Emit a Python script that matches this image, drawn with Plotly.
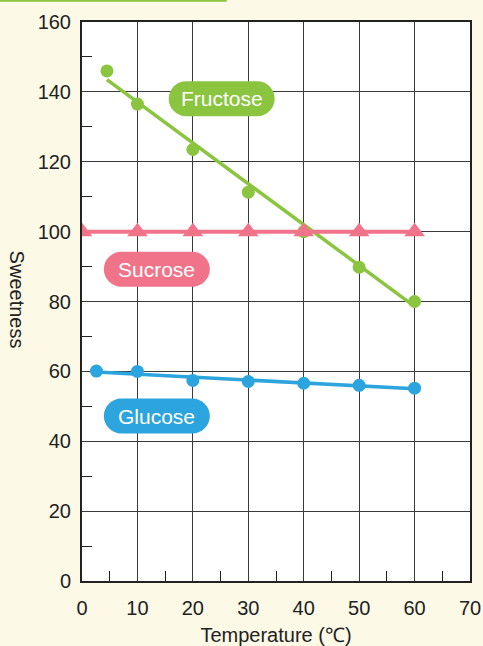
import plotly.graph_objects as go

fructose_t = [4.5, 10, 20, 30, 40, 50, 60]
fructose_s = [146, 136.5, 123.5, 111.3, 100, 89.8, 80]
fructose_fit_t = [4.5, 59.5]
fructose_fit_s = [143.5, 79.2]

sucrose_t = [0, 10, 20, 30, 40, 50, 60]
sucrose_s = [100, 100, 100, 100, 100, 100, 100]

glucose_t = [2.6, 10, 20, 30, 40, 50, 60]
glucose_s = [60.1, 60.0, 57.4, 57.1, 56.6, 56.0, 55.2]
glucose_fit_t = [2.6, 60]
glucose_fit_s = [59.8, 55.0]

GREEN = "#8bc540"
PINK = "#f07389"
BLUE = "#2ca4de"
BG = "#fdf9e7"
GRID = "#3a3a3a"
FONT = "Liberation Sans, Arial, sans-serif"

fig = go.Figure()

fig.add_scatter(x=fructose_fit_t, y=fructose_fit_s, mode="lines",
                line=dict(color=GREEN, width=3.5), showlegend=False, hoverinfo="skip")
fig.add_scatter(x=fructose_t, y=fructose_s, mode="markers",
                marker=dict(color=GREEN, size=13), showlegend=False)

fig.add_scatter(x=sucrose_t, y=sucrose_s, mode="lines+markers",
                line=dict(color=PINK, width=4),
                marker=dict(color=PINK, size=18, symbol="triangle-up"),
                showlegend=False)

fig.add_scatter(x=glucose_fit_t, y=glucose_fit_s, mode="lines",
                line=dict(color=BLUE, width=3.5), showlegend=False, hoverinfo="skip")
fig.add_scatter(x=glucose_t, y=glucose_s, mode="markers",
                marker=dict(color=BLUE, size=13), showlegend=False)


def pill(xc, yc, w, h, color):
    # rounded label box in pixels around a data anchor
    a = w / 2 - h / 2
    r = h / 2
    k = 0.5523 * r
    path = (f"M {-a},{-r} L {a},{-r} "
            f"C {a + k},{-r} {a + r},{-k} {a + r},0 "
            f"C {a + r},{k} {a + k},{r} {a},{r} "
            f"L {-a},{r} "
            f"C {-a - k},{r} {-a - r},{k} {-a - r},0 "
            f"C {-a - r},{-k} {-a - k},{-r} {-a},{-r} Z")
    fig.add_shape(type="path", path=path, xsizemode="pixel", ysizemode="pixel",
                  xanchor=xc, yanchor=yc, xref="x", yref="y",
                  fillcolor=color, line_width=0, layer="above")


labels = [("Fructose", 25.2, 138.0, GREEN),
          ("Sucrose", 13.5, 89.2, PINK),
          ("Glucose", 13.5, 47.2, BLUE)]
for txt, xc, yc, col in labels:
    pill(xc, yc, 106, 35, col)
    fig.add_annotation(x=xc, y=yc, text=txt, showarrow=False,
                       font=dict(color="white", size=21, family=FONT))

fig.add_annotation(xref="paper", yref="paper", x=-0.167, y=0.503, text="Sweetness",
                   textangle=90, showarrow=False, xanchor="center", yanchor="middle",
                   font=dict(size=20, color="#222", family=FONT))

# thin green strip at the very top
fig.add_shape(type="line", xref="paper", yref="paper", x0=-0.212, x1=0.373,
              y0=1.0385, y1=1.0385, line=dict(color=GREEN, width=2.5))

fig.update_xaxes(range=[0, 70], dtick=10, showgrid=True, gridcolor=GRID, gridwidth=1.2,
                 showline=True, mirror=True, linecolor="#222", linewidth=2,
                 ticks="", zeroline=False, ticklabelstandoff=8, automargin=False,
                 tickfont=dict(size=20, color="#222", family=FONT),
                 title=dict(text="Temperature (℃)", font=dict(size=20, color="#222", family=FONT),
                            standoff=11),
                 minor=dict(dtick=5, ticks="inside", ticklen=10, tickcolor="#222",
                            tickwidth=1, showgrid=False))
fig.update_yaxes(range=[0, 160], dtick=20, showgrid=True, gridcolor=GRID, gridwidth=1.2,
                 showline=True, mirror=True, linecolor="#222", linewidth=2,
                 ticks="", zeroline=False, ticklabelstandoff=5, automargin=False,
                 tickfont=dict(size=20, color="#222", family=FONT),
                 minor=dict(dtick=10, ticks="inside", ticklen=10, tickcolor="#222",
                            tickwidth=1, showgrid=False))

fig.update_layout(width=483, height=646, paper_bgcolor=BG, plot_bgcolor="white",
                  margin=dict(l=82, r=13, t=22, b=65), showlegend=False,
                  font=dict(family=FONT))

fig.write_html("out.html", config={"displayModeBar": False},
               post_script="document.body.style.margin='0';"
                           "document.body.style.overflow='hidden';"
                           "document.body.style.background='" + BG + "';")
